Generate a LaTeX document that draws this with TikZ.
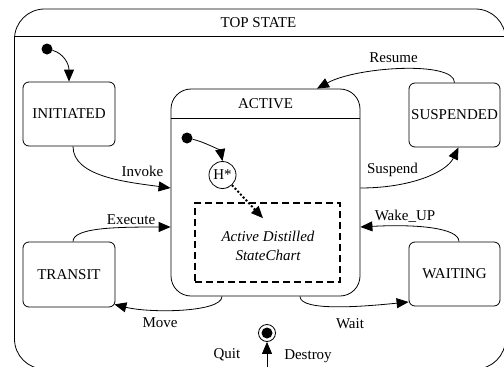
\documentclass[tikz,border=0pt]{standalone}
\usepackage{fontspec}
\setmainfont{Liberation Serif}
\usetikzlibrary{calc,positioning,arrows.meta}

\begin{document}
\begin{tikzpicture}[x=1pt, y=-1pt,
    font=\fontsize{15}{19}\selectfont,
    state/.style={draw, rounded corners=6pt, line width=0.8pt, minimum width=92pt, minimum height=64pt, inner sep=0pt, align=center},
    super/.style={draw, rounded corners=#1, line width=0.8pt, inner sep=0pt},
    arr/.style={-{Triangle[length=12pt,width=10pt]}, line width=0.8pt},
    lbl/.style={inner sep=0pt},
    dot/.style={circle, fill, inner sep=0pt, minimum size=11pt}
  ]
  \useasboundingbox (0,0) rectangle (504,367);

  % superstates
  \node[super=30pt, minimum width=491pt, minimum height=360pt] (top) at (260,189) {};
  \node (toptitle) at (258.5,23) {TOP STATE};
  \draw[line width=0.8pt] ($(top.north west)+(0,28)$) -- ($(top.north east)+(0,28)$);

  \node[super=20pt, minimum width=189pt, minimum height=207pt] (active) at (265.5,192.5) {};
  \node (activetitle) at (265.5,104) {ACTIVE};
  \draw[line width=0.8pt] ($(active.north west)+(0,30)$) -- ($(active.north east)+(0,30)$);

  % inside ACTIVE
  \node[draw, line width=1.6pt, dash pattern=on 7pt off 4pt, minimum width=145pt, minimum height=79pt] (distilled) at (267.5,242.5) {};
  \node[align=center, font=\fontsize{15}{19}\selectfont\itshape] (distilledtext) at (268,245.5) {Active Distilled\\StateChart};
  \node[circle, draw, line width=0.8pt, minimum size=27pt, inner sep=0pt] (hist) at (222.5,175) {H*};
  \node[dot] (activeinit) at (187,138) {};

  % initial and final
  \node[dot] (topinit) at (47,49) {};
  \node[circle, draw, line width=0.8pt, minimum size=17pt, inner sep=0pt] (final) at (267,333) {};
  \node[dot] (finaldot) at (final) {};

  % simple states
  \node[state] (initiated) at (69,114) {INITIATED};
  \node[state, minimum width=91pt] (suspended) at (454.5,115) {SUSPENDED};
  \node[state, minimum height=65pt] (transit) at (69,274.5) {TRANSIT};
  \node[state, minimum width=91pt] (waiting) at (454.5,274) {WAITING};

  % transitions
  \draw[arr] (topinit) .. controls +(16,4) and +(0,-18) .. (initiated.north);
  \draw[arr] ([xshift=4pt]initiated.south) .. controls +(0,30) and +(-45,-6) .. ([yshift=4.5pt]active.west);
  \draw[arr] ([xshift=4pt]transit.north) .. controls +(0,-14) and +(-55,0) .. ([yshift=-34.5pt]active.west);
  \draw[arr] ([xshift=-43.5pt]active.south) .. controls +(0,16) and +(36,9) .. ([shift={(-1pt,3pt)}]transit.south east);
  \draw[arr] ([xshift=34.5pt]active.south) .. controls +(0,16) and +(-40,4) .. ([yshift=-28pt]waiting.west);
  \draw[arr] ([xshift=4.5pt]waiting.north) .. controls +(0,-14) and +(55,-3) .. ([yshift=-34.5pt]active.east);
  \draw[arr] ([yshift=4.5pt]active.east) .. controls +(50,0) and +(-12,25) .. ([xshift=4pt]suspended.south);
  \draw[arr] (suspended.north) .. controls +(0,-22) and +(40,-22) .. ([xshift=51.5pt]active.north);

  \draw[arr] (activeinit) .. controls +(18,4) and +(-2,-10) .. (hist.north);
  \coordinate (histentry) at ($(distilled.north)+(-4.5,16)$);
  \draw[arr, line width=2pt, dash pattern=on 2pt off 2pt] (hist) -- (histentry);

  \coordinate (quitsrc) at (267,367);
  \draw[arr] (quitsrc) -- (final);

  % labels
  \node[lbl] (invoke) at (142.5,171) {Invoke};
  \node[lbl] (execute) at (131,220) {Execute};
  \node[lbl] (move) at (160,323) {Move};
  \node[lbl] (wait) at (350,324) {Wait};
  \node[lbl] (wakeup) at (405,216) {Wake\_UP};
  \node[lbl] (suspend) at (392.5,170) {Suspend};
  \node[lbl] (resume) at (393.5,58) {Resume};
  \node[lbl] (quit) at (227,355) {Quit};
  \node[lbl] (destroy) at (308,356) {Destroy};
\end{tikzpicture}
\end{document}
